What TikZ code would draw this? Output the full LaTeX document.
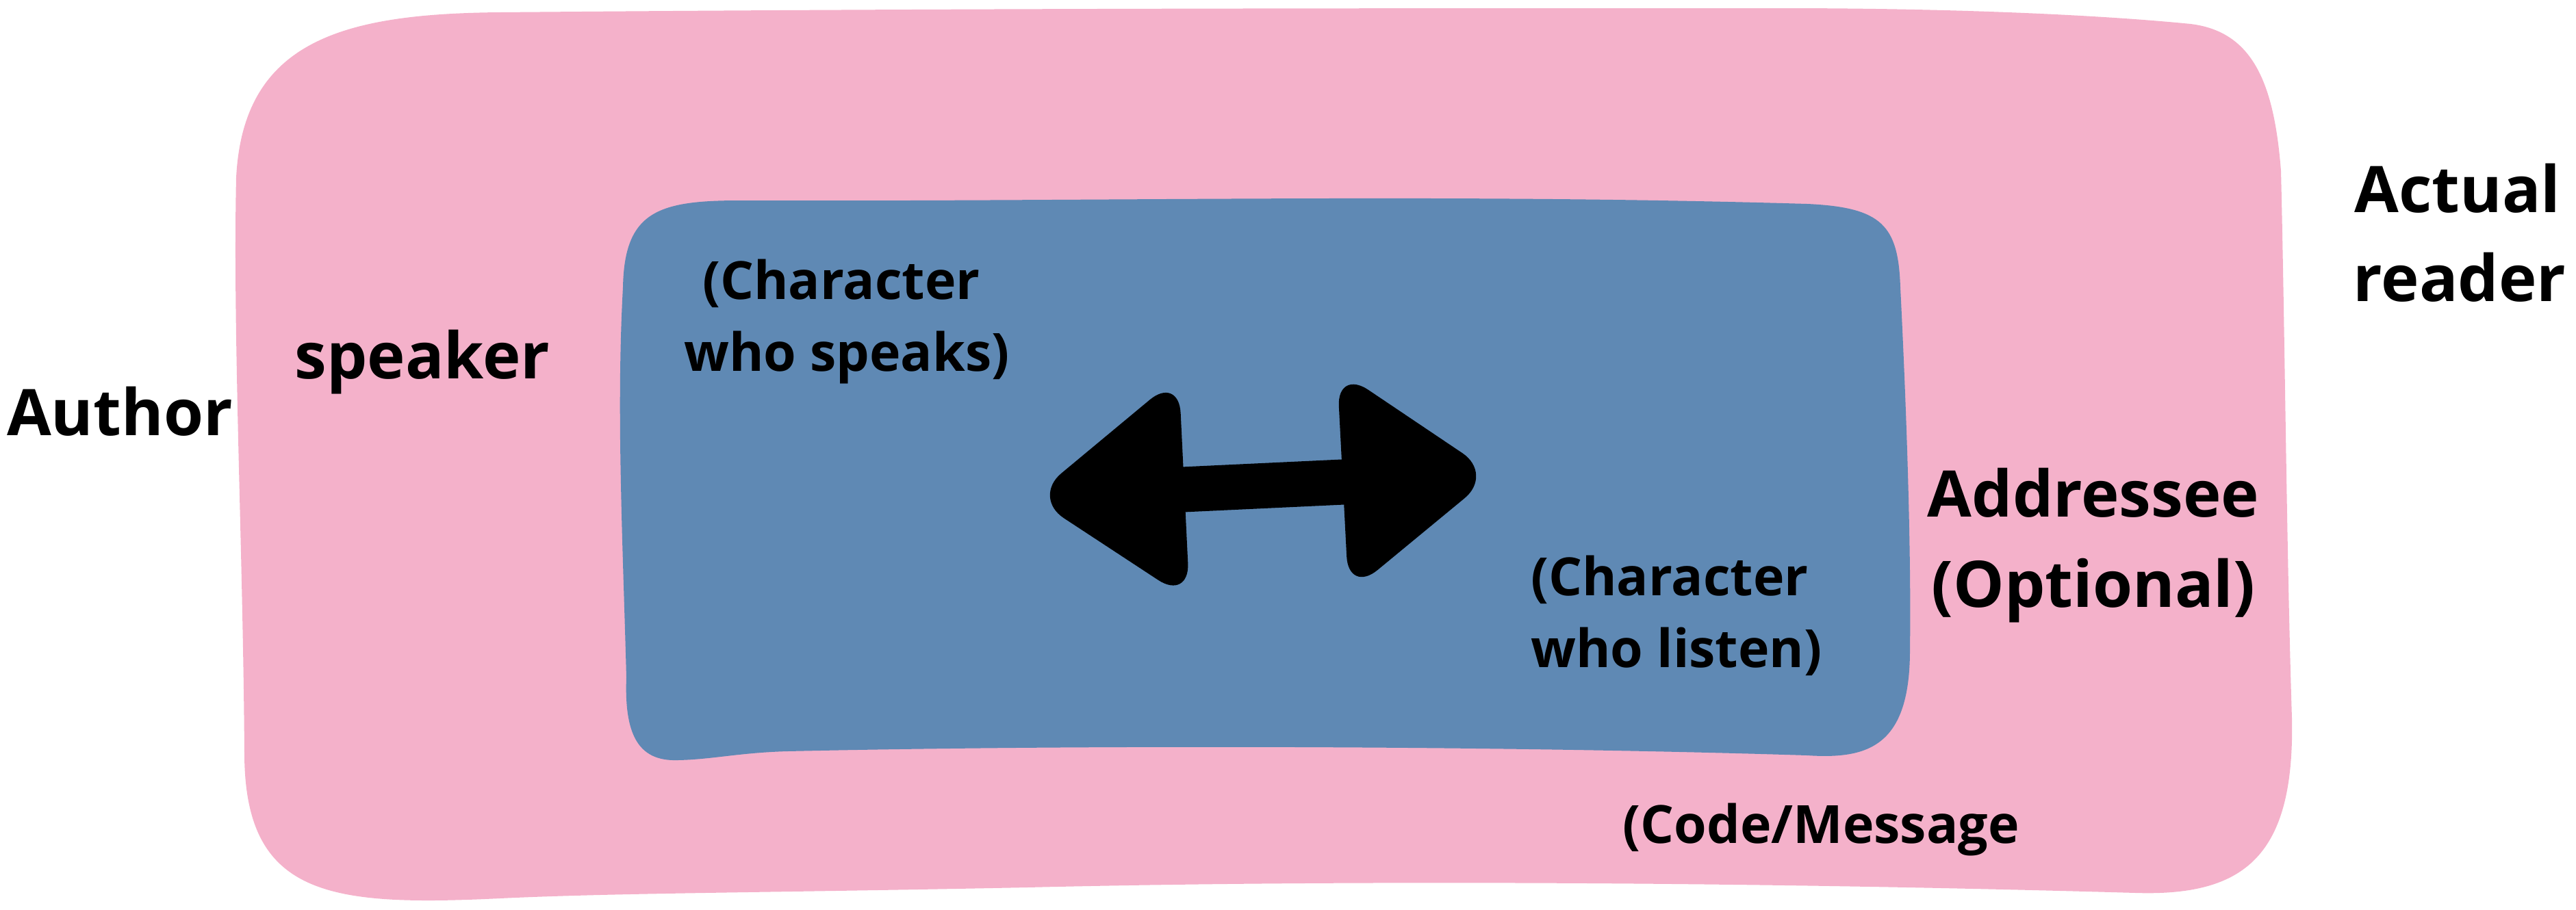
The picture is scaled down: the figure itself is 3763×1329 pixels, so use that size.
\documentclass[tikz,border=0pt]{standalone}
\usepackage{fontspec}
\setmainfont{Open Sans}
\definecolor{pinkfill}{HTML}{F4B1CA}
\definecolor{bluefill}{HTML}{5F89B4}
\begin{document}
\begin{tikzpicture}[x=0.01cm,y=-0.01cm,
  bigtxt/.style={anchor=base,inner sep=0pt,font=\bfseries\fontsize{26.7}{32}\selectfont},
  smalltxt/.style={anchor=base,inner sep=0pt,font=\bfseries\fontsize{21.9}{26}\selectfont},
  arrowpart/.style={fill=black,rounded corners=0.55cm}]
\useasboundingbox (0,0) rectangle (3763,1329);
% outer pink blob
\fill[pinkfill] (730,18)
  .. controls (1400,12) and (2000,12) .. (2600,12)
  .. controls (2900,12) and (3100,25) .. (3200,35)
  .. controls (3290,46) and (3322,120) .. (3332,250)
  .. controls (3338,500) and (3340,800) .. (3348,1050)
  .. controls (3352,1250) and (3280,1310) .. (3120,1305)
  .. controls (2600,1290) and (2000,1285) .. (1500,1297)
  .. controls (1100,1305) and (900,1305) .. (730,1313)
  .. controls (480,1325) and (357,1310) .. (357,1100)
  .. controls (355,800) and (340,500) .. (345,260)
  .. controls (355,60) and (500,20) .. (730,18) -- cycle;
% inner blue blob
\fill[bluefill] (1080,293)
  .. controls (1600,295) and (2100,282) .. (2640,298)
  .. controls (2750,303) and (2773,330) .. (2776,420)
  .. controls (2785,600) and (2792,800) .. (2790,950)
  .. controls (2790,1090) and (2730,1110) .. (2640,1104)
  .. controls (2200,1090) and (1600,1088) .. (1150,1098)
  .. controls (1080,1100) and (1040,1110) .. (990,1111)
  .. controls (930,1113) and (912,1070) .. (915,990)
  .. controls (910,800) and (900,600) .. (910,420)
  .. controls (912,310) and (960,293) .. (1080,293) -- cycle;
% double arrow
\fill[black] (1715,683) -- (1970,671) -- (1974,737) -- (1718,749) -- cycle;
\fill[arrowpart] (1508,727) -- (1722,549) -- (1738,878) -- cycle;
\fill[arrowpart] (2182,693) -- (1953,539) -- (1970,868) -- cycle;
% texts
\node[bigtxt] (author) at (175,636) {Author};
\node[bigtxt] (speaker) at (617,553) {speaker};
\node[bigtxt] (actual) at (3590,310) {Actual};
\node[bigtxt] (reader) at (3593,440) {reader};
\node[bigtxt] (addressee) at (3058,755) {Addressee};
\node[bigtxt] (optional) at (3058,887) {(Optional)};
\node[smalltxt] (spk1) at (1229,437) {(Character};
\node[smalltxt] (spk2) at (1237,542) {who speaks)};
\node[smalltxt] (lis1) at (2439,870) {(Character};
\node[smalltxt] (lis2) at (2449,975) {who listen)};
\node[smalltxt] (code) at (2660,1232) {(Code/Message};
\end{tikzpicture}
\end{document}
